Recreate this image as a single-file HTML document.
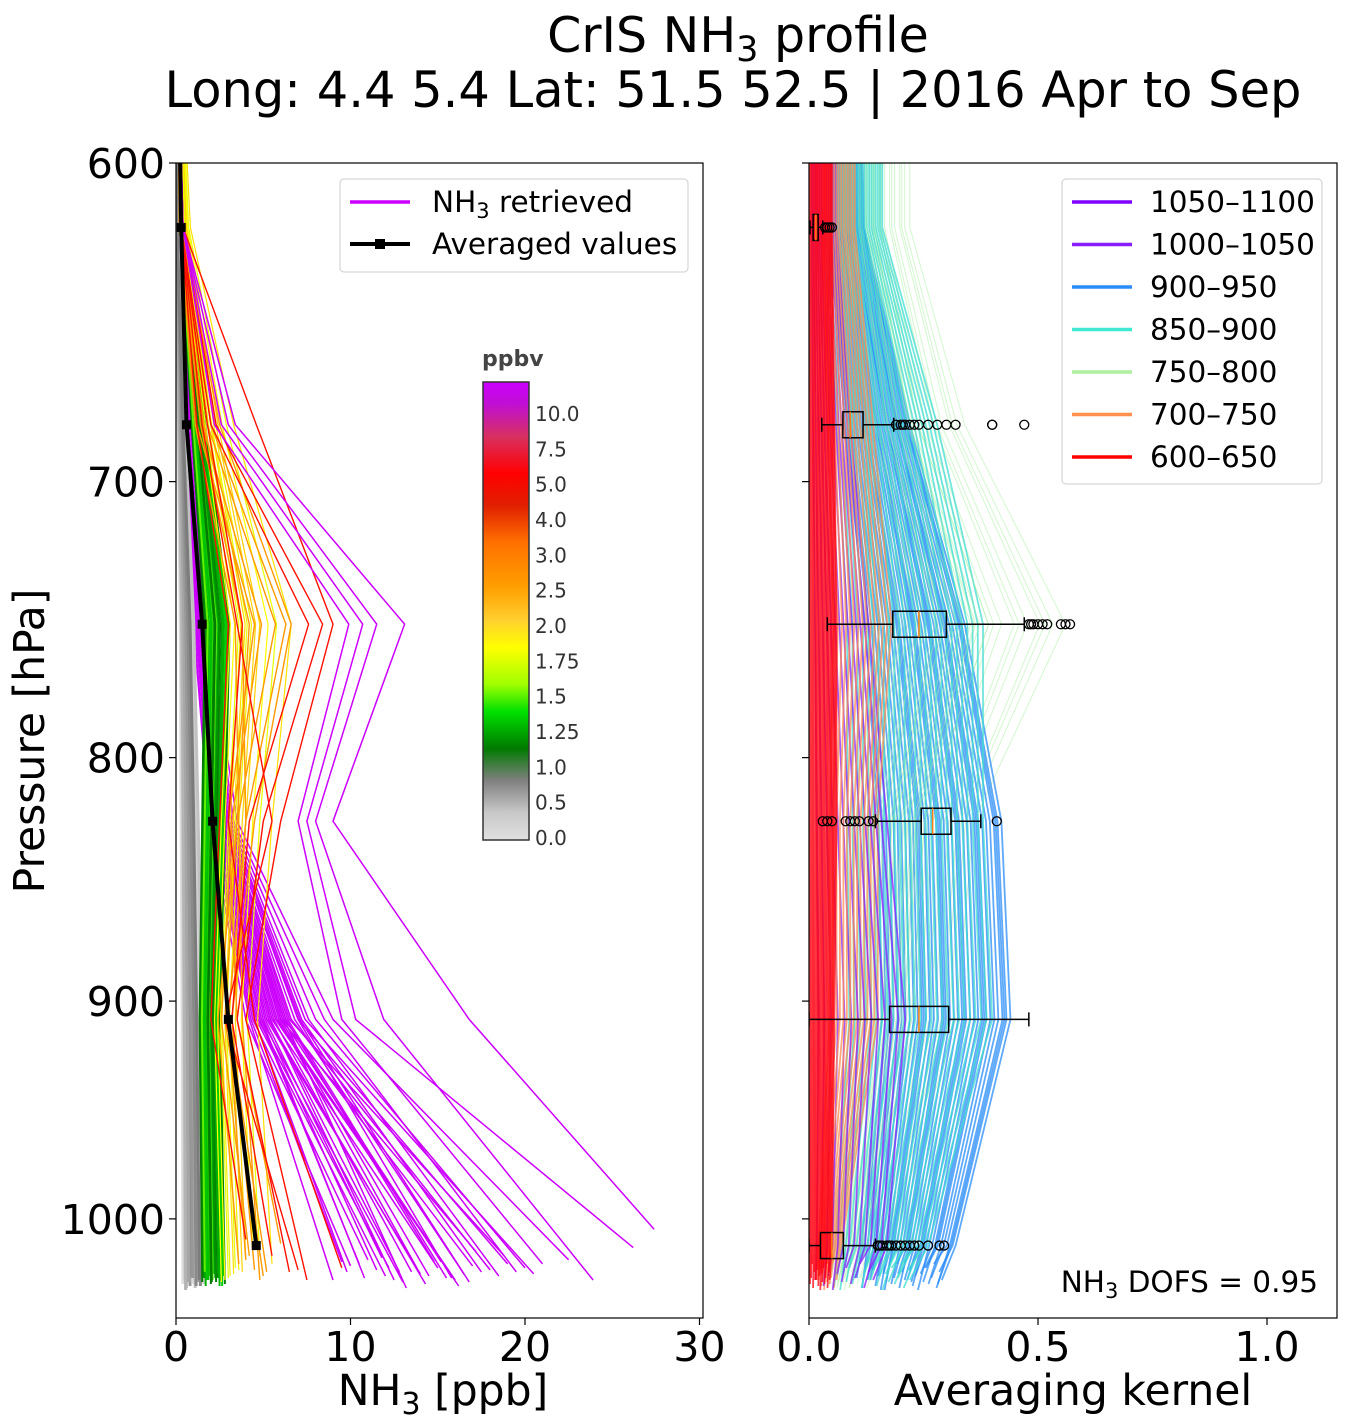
<!DOCTYPE html>
<html><head><meta charset="utf-8">
<style>
html,body{margin:0;padding:0;background:#fff;}
svg{display:block;font-family:"DejaVu Sans","Liberation Sans",sans-serif;}
</style></head>
<body>
<svg id="chart" width="1351" height="1426" viewBox="0 0 1351 1426" xmlns="http://www.w3.org/2000/svg">
<defs>
<clipPath id="clipL"><rect x="176" y="163" width="527" height="1155"/></clipPath>
<clipPath id="clipR"><rect x="809" y="163" width="528" height="1155"/></clipPath>
<linearGradient id="cbar" x1="0" y1="0" x2="0" y2="1">
<stop offset="0" stop-color="#cc00ff"/><stop offset="0.05" stop-color="#c010d0"/>
<stop offset="0.12" stop-color="#d83060"/><stop offset="0.2" stop-color="#ff0000"/>
<stop offset="0.27" stop-color="#e02000"/><stop offset="0.35" stop-color="#ff7000"/>
<stop offset="0.45" stop-color="#ffa000"/><stop offset="0.52" stop-color="#ffd030"/>
<stop offset="0.58" stop-color="#ffff00"/><stop offset="0.66" stop-color="#a0ff00"/>
<stop offset="0.72" stop-color="#00e000"/><stop offset="0.8" stop-color="#007a00"/>
<stop offset="0.87" stop-color="#808080"/><stop offset="0.94" stop-color="#c8c8c8"/>
<stop offset="1" stop-color="#e0e0e0"/>
</linearGradient>
</defs>
<text x="738" y="52" text-anchor="middle" font-size="49">CrIS NH<tspan font-size="35" dy="9">3</tspan><tspan dy="-9"> profile</tspan></text>
<text x="733" y="107" text-anchor="middle" font-size="49.5">Long: 4.4 5.4 Lat: 51.5 52.5 | 2016 Apr to Sep</text>
<g id="left-lines" clip-path="url(#clipL)"></g>
<g id="right-lines" clip-path="url(#clipR)"></g>
<g id="axes"></g>
</svg>
<script>
// ---- Data: pressure levels ----
const levelsP = [550, 619, 681, 750, 825, 908];
const avgP = [619, 681, 750, 825, 908, 1013];
const avgV = [0.3, 0.6, 1.5, 2.1, 3.0, 4.6];
const grayVs = [0.4,0.5,0.6,0.65,0.7,0.8,0.85,0.9,1.0,1.05,1.1,1.2,1.25,1.3,1.4,1.45,1.5,1.6,1.7,0.55,0.75,0.95,1.15,1.35];
const grayPs = [1032,1030,1034,1028,1031,1033,1029,1027,1032,1030,1034,1026,1031,1029,1033,1028,1030,1032,1027,1035,1031,1029,1033,1030];
const grayShape = [0.02,0.05,0.3,0.6,0.75,0.88];
const greenVs = [1.5,1.6,1.7,1.8,1.9,2.0,2.1,2.2,2.3,2.4,2.5,2.6,2.7,2.8,1.65,1.85,2.05,2.25,2.45,2.65];
const greenPs = [1031,1029,1033,1030,1028,1032,1030,1027,1031,1029,1033,1030,1028,1032,1026,1030,1031,1029,1027,1033];
const greenShape = [0.02,0.15,0.6,1.1,1.0,0.9];
const yellowVs = [2.6,3.0,3.3,3.6,4.0,4.4,4.8,5.5,3.1,3.8,2.8,3.4];
const yellowPs = [1031,1029,1027,1025,1020,1015,1018,1022,1028,1026,1030,1024];
const yellowShape = [0.02,0.15,0.6,1.2,1.0,0.85];
const orangeProfiles = [[0.3,2.5,6.6,4.5,3.2,4.5,1025],[0.3,2.0,6.3,4.0,3.0,4.0,1020],[0.2,1.8,5.7,3.5,2.8,5.0,1028],[0.2,1.5,4.9,3.2,2.6,4.2,1018],[0.2,1.2,4.5,3.0,3.5,6.0,1012],[0.2,1.6,4.2,3.5,2.4,3.6,1022],[0.2,1.4,3.8,4.0,3.0,5.2,1026],[0.2,1.1,3.4,3.6,3.8,4.8,1030]];
const redProfiles = [[0.4,4.6,9.0,6.0,4.0,7.5,1030],[0.4,2.3,8.4,5.0,3.5,6.5,1026],[0.3,2.0,7.6,4.2,3.2,5.5,1018],[0.3,1.5,3.5,5.5,2.8,7.0,1025],[0.3,1.2,3.0,2.5,2.0,4.0,1010],[0.3,1.8,3.8,3.0,4.5,9.5,1024]];
const magentaOutliers = [[0.4,3.4,13.1,9.0,16.8,27.4,1005],[0.4,3.0,11.5,8.0,11.9,23.9,1030],[0.4,2.6,10.7,7.5,10.3,26.2,1014],[0.4,2.2,9.9,7.0,9.5,21.0,1022]];
const magentaProfiles = [
[0.2,0.8,1.8,3.5,9.0,22.5,1020],[0.2,0.8,1.8,3.3,8.5,19.5,1026],[0.2,0.7,1.7,3.2,8.0,20.0,1024],[0.2,0.7,1.7,3.1,7.6,18.5,1028],
[0.2,0.7,1.6,3.0,7.2,17.5,1026],[0.2,0.7,1.6,2.9,7.0,19.0,1022],[0.2,0.6,1.5,2.8,6.8,16.5,1027],[0.2,0.6,1.5,2.8,6.6,18.0,1025],
[0.2,0.6,1.5,2.7,6.4,15.5,1029],[0.2,0.6,1.4,2.6,6.2,17.0,1023],[0.2,0.6,1.4,2.6,6.0,14.5,1028],[0.2,0.5,1.4,2.5,5.8,16.0,1030],
[0.2,0.5,1.3,2.5,5.6,13.5,1026],[0.2,0.5,1.3,2.4,5.5,15.0,1024],[0.2,0.5,1.3,2.4,5.4,12.5,1030],[0.2,0.5,1.2,2.3,5.2,14.0,1027],
[0.2,0.5,1.2,2.3,5.0,11.5,1025],[0.2,0.5,1.2,2.2,4.9,13.0,1031],[0.2,0.4,1.1,2.2,4.8,10.5,1022],[0.2,0.4,1.1,2.1,4.6,12.0,1028],
[0.2,0.4,1.1,2.1,4.5,9.8,1026],[0.2,0.4,1.0,2.0,4.4,11.0,1020],[0.2,0.4,1.0,2.0,4.2,9.0,1030],[0.2,0.4,1.0,1.9,4.0,10.0,1023],
[0.2,0.6,1.5,2.8,6.5,18.8,1018],[0.2,0.6,1.4,2.7,6.0,17.2,1016],[0.2,0.7,1.6,2.9,7.0,15.8,1029],[0.2,0.6,1.5,2.7,6.3,14.8,1021],
[0.2,0.6,1.4,2.6,5.9,13.8,1024],[0.2,0.5,1.3,2.5,5.4,12.8,1026],[0.2,0.5,1.2,2.4,5.1,11.8,1019],[0.2,0.4,1.1,2.2,4.9,10.8,1029],
[0.2,0.7,1.7,3.0,7.4,20.5,1027],[0.2,0.7,1.6,2.9,7.1,16.8,1031],[0.2,0.6,1.4,2.7,6.1,15.2,1021],[0.2,0.4,1.1,2.1,4.7,12.2,1024],
[0.2,0.4,1.0,2.0,4.3,9.5,1021],[0.2,0.5,1.2,2.3,5.3,14.3,1032],[0.2,0.5,1.3,2.5,5.7,16.2,1033],[0.2,0.6,1.4,2.6,6.2,13.2,1034]];
const akLevels = [500, 619, 681, 750, 825, 908, 1013];
const akShapes = {
  lightgreen:[0.22,0.22,0.34,0.56,0.36,0.32,0.18,0.14],
  blue:[0.1,0.12,0.22,0.34,0.42,0.44,0.32,0.29],
  cyan:[0.16,0.16,0.28,0.38,0.38,0.4,0.26,0.22],
  orange:[0.1,0.1,0.14,0.18,0.15,0.15,0.07,0.06],
  purple:[0.06,0.06,0.09,0.13,0.17,0.21,0.17,0.14],
  red:[0.05,0.05,0.055,0.06,0.06,0.055,0.05,0.045]
};
const akScales = {
  lightgreen:[1.0,0.95,0.9,0.85,0.8,0.75,0.7,0.65,0.6,0.55,0.5,0.45,0.4,0.92,0.82,0.72,0.62,0.52],
  blue:[1.0,0.98,0.96,0.94,0.92,0.9,0.88,0.86,0.84,0.82,0.8,0.78,0.76,0.74,0.72,0.7,0.68,0.66,0.64,0.62,0.6,0.58,0.56,0.54,0.52,0.5,0.48,0.46,0.44,0.42,0.4,0.38,0.36,0.97,0.87,0.77,0.67,0.57],
  cyan:[1.0,0.97,0.94,0.91,0.88,0.85,0.82,0.79,0.76,0.73,0.7,0.67,0.64,0.61,0.58,0.55,0.52,0.49,0.46,0.43,0.4,0.37,0.34,0.31,0.28,0.25,0.22],
  orange:[1.0,0.95,0.9,0.85,0.8,0.75,0.7,0.65,0.6,0.55,0.5,0.45,0.4,0.35,0.3],
  purple:[1.0,0.93,0.86,0.79,0.72,0.65,0.58,0.51,0.44,0.37,0.3,0.23,0.16,0.1],
  red:[1.0,0.95,0.9,0.85,0.8,0.75,0.7,0.65,0.6,0.55,0.5,0.45,0.4,0.35,0.3,0.25,0.2,0.15,0.1,0.05]
};
const akSurfP = [1030,1026,1034,1022,1029,1032,1024,1031,1027,1035,1028,1033,1025,1030];
const boxLevels = [619, 681, 750, 825, 908, 1013];
const boxStats = [[0.002,0.009,0.015,0.02,0.03],[0.028,0.074,0.09,0.118,0.185],[0.04,0.183,0.24,0.30,0.47],[0.145,0.245,0.27,0.31,0.375],[0.0,0.176,0.24,0.305,0.48],[0.0,0.025,0.05,0.075,0.145]];
const boxOutliers = [[0.035,0.04,0.045,0.05],[0.19,0.2,0.205,0.21,0.22,0.23,0.24,0.26,0.28,0.3,0.32,0.4,0.4,0.47],[0.48,0.485,0.49,0.5,0.51,0.52,0.55,0.56,0.57],[0.03,0.04,0.05,0.08,0.09,0.1,0.11,0.13,0.14,0.41],[],[0.15,0.155,0.16,0.17,0.175,0.18,0.19,0.2,0.21,0.22,0.23,0.24,0.26,0.285,0.295]];
const leftXTicks = [0,10,20,30];
const rightXTicks = [0.0,0.5,1.0];
const yTicks = [600,700,800,900,1000];
const cbarLabels = ["10.0","7.5","5.0","4.0","3.0","2.5","2.0","1.75","1.5","1.25","1.0","0.5","0.0"];
const akClasses = ["1050\u20131100","1000\u20131050","900\u2013950","850\u2013900","750\u2013800","700\u2013750","600\u2013650"];

const NS="http://www.w3.org/2000/svg";
const yS = p => 163 + 2067*Math.log(p/600);
const xL = v => 176 + v*17.45;
const xR = v => 809 + v*458;
function mk(tag, attrs, parent){const e=document.createElementNS(NS,tag);for(const k in attrs)e.setAttribute(k,attrs[k]);parent.appendChild(e);return e;}
const gL=document.getElementById('left-lines'), gR=document.getElementById('right-lines'), gA=document.getElementById('axes');

function profLine(vals, pres, color, w, name){
  const pts = vals.map((v,i)=>xL(v).toFixed(1)+','+yS(pres[i]).toFixed(1)).join(' ');
  const e=mk('polyline',{points:pts,fill:'none',stroke:color,'stroke-width':w},gL);
  
  
}
magentaProfiles.forEach(p=>{profLine([0.05,...p.slice(0,6)],[...levelsP,p[6]],'#cc00ff',1.5,'magenta-profile');});
const grayCols=['#dcdcdc','#cfcfcf','#c2c2c2','#b4b4b4','#a6a6a6','#989898','#8a8a8a','#7c7c7c'];
grayVs.forEach((vs,i)=>{profLine([...grayShape.map(s=>s*vs),vs],[...levelsP,grayPs[i]],grayCols[i%8],3,'gray-profile');});
const greenCols=['#007a00','#009000','#00b000','#00d000','#30e000','#008400','#60f000','#00c000'];
greenVs.forEach((vs,i)=>{profLine([...greenShape.map(s=>s*vs),vs],[...levelsP,greenPs[i]],greenCols[i%8],2,'green-profile');});
const yelCols=['#ffff00','#e8ff00','#ffe000','#f0f000','#ffd000'];
yellowVs.forEach((vs,i)=>{profLine([...yellowShape.map(s=>s*vs),vs],[...levelsP,yellowPs[i]],yelCols[i%5],1.2,'yellow-profile');});
orangeProfiles.forEach(p=>{profLine([0.05,...p.slice(0,6)],[...levelsP,p[6]],'#ff9a00',1.4,'orange-profile');});
redProfiles.forEach(p=>{profLine([0.05,...p.slice(0,6)],[...levelsP,p[6]],'#ff1000',1.4,'red-profile');});
magentaOutliers.forEach(p=>{profLine([0.05,...p.slice(0,6)],[...levelsP,p[6]],'#cc00ff',1.5,'magenta-outlier-profile');});
const avPts = avgV.map((v,i)=>xL(v).toFixed(1)+','+yS(avgP[i]).toFixed(1));
const avLine=mk('polyline',{points:[xL(0.1)+','+yS(560),...avPts].join(' '),fill:'none',stroke:'#000','stroke-width':4},gL);


avgV.forEach((v,i)=>{const m=mk('rect',{x:xL(v)-4.5,y:yS(avgP[i])-4.5,width:9,height:9,fill:'#000'},gL);
  
  });

// right panel
const akCol={lightgreen:'#a8f0a0',blue:'#2a8cf8',cyan:'#40dcd0',orange:'#ff8c50',purple:'#8a20ff',red:'#ff0010'};
function akLine(cls,s,i){
  const sh=akShapes[cls];
  const pres=[...akLevels, akSurfP[i%akSurfP.length]];
  const pts=sh.map((v,j)=>xR(v*s).toFixed(1)+','+yS(pres[j]).toFixed(1)).join(' ');
  const e=mk('polyline',{points:pts,fill:'none',stroke:akCol[cls],'stroke-width':cls==='lightgreen'?1:1.8,'stroke-opacity':cls==='lightgreen'?0.5:0.75},gR);
  
  
}
akScales.lightgreen.forEach((s,i)=>akLine('lightgreen',s,i));
akScales.blue.forEach((s,i)=>akLine('blue',s,i));
for(let i=0;i<40;i++){['cyan','lightgreen'].forEach(c=>{if(i<akScales[c].length)akLine(c,akScales[c][i]*(c==='lightgreen'?0.7:1),i);});}
for(let i=0;i<40;i++){['purple','orange'].forEach(c=>{if(i<akScales[c].length)akLine(c,akScales[c][i],i);});}
akScales.red.forEach((s,i)=>akLine('red',s,i));
boxLevels.forEach((p,i)=>{
  const y=yS(p), s=boxStats[i], g=mk('g',{},gR);
  
  
  mk('line',{x1:xR(s[0]),x2:xR(s[1]),y1:y,y2:y,stroke:'#000','stroke-width':1.5},g);
  mk('line',{x1:xR(s[3]),x2:xR(s[4]),y1:y,y2:y,stroke:'#000','stroke-width':1.5},g);
  mk('line',{x1:xR(s[0]),x2:xR(s[0]),y1:y-7,y2:y+7,stroke:'#000','stroke-width':1.5},g);
  mk('line',{x1:xR(s[4]),x2:xR(s[4]),y1:y-7,y2:y+7,stroke:'#000','stroke-width':1.5},g);
  mk('rect',{x:xR(s[1]),y:y-13,width:xR(s[3])-xR(s[1]),height:26,fill:'none',stroke:'#000','stroke-width':1.5},g);
  mk('line',{x1:xR(s[2]),x2:xR(s[2]),y1:y-13,y2:y+13,stroke:'#ff7f0e','stroke-width':1.5},g);
  boxOutliers[i].forEach(o=>mk('circle',{cx:xR(o),cy:y,r:4.5,fill:'none',stroke:'#000','stroke-width':1.3},g));
});

mk('rect',{x:176,y:163,width:527,height:1155,fill:'none',stroke:'#000','stroke-width':1.2},gA);
mk('rect',{x:809,y:163,width:528,height:1155,fill:'none',stroke:'#000','stroke-width':1.2},gA);
yTicks.forEach(t=>{
  const y=yS(t);
  mk('line',{x1:169,x2:176,y1:y,y2:y,stroke:'#000','stroke-width':1.2},gA);
  mk('line',{x1:802,x2:809,y1:y,y2:y,stroke:'#000','stroke-width':1.2},gA);
  const tx=mk('text',{x:165,y:y+15,'text-anchor':'end','font-size':41},gA);tx.textContent=t;
  
  
});
leftXTicks.forEach(t=>{
  const x=xL(t);
  mk('line',{x1:x,x2:x,y1:1318,y2:1325,stroke:'#000','stroke-width':1.2},gA);
  const tx=mk('text',{x:x,y:1361,'text-anchor':'middle','font-size':41},gA);tx.textContent=t;
  
  
});
rightXTicks.forEach(t=>{
  const x=xR(t);
  mk('line',{x1:x,x2:x,y1:1318,y2:1325,stroke:'#000','stroke-width':1.2},gA);
  const tx=mk('text',{x:x,y:1361,'text-anchor':'middle','font-size':41},gA);tx.textContent=t.toFixed(1);
  
  
});
cbarLabels.forEach((l,i)=>{
  const y=414+i*(838-414)/12;
  mk('line',{x1:524,x2:529,y1:y,y2:y,stroke:'#444','stroke-width':1},gA);
  const tx=mk('text',{x:535,y:y+7,'font-size':20,fill:'#333'},gA);tx.textContent=l;
  
  
});
const legCols=['#8000ff','#8a1cff','#2a8cf8','#40e8d0','#aef0a0','#ff9050','#ff0000'];
akClasses.forEach((c,i)=>{
  const y=202+i*42.5;
  const l=mk('line',{x1:1072,x2:1132,y1:y,y2:y,stroke:legCols[i],'stroke-width':3.5},gA);
  
  
  const tx=mk('text',{x:1150,y:y+10,'font-size':29.5},gA);tx.textContent=c;
  
  
});
</script>
<script>
const s2=document.getElementById('chart');
s2.insertAdjacentHTML('beforeend',`
<g>
<text x="482" y="366" font-size="22" font-weight="bold" fill="#444">ppbv</text>
<rect x="483" y="382" width="46" height="458" fill="url(#cbar)" stroke="#333" stroke-width="1.5"/>
</g>
<g>
<rect x="340" y="179" width="348" height="93" rx="4" fill="#fff" fill-opacity="0.85" stroke="#ccc" stroke-width="1"/>
<line x1="350" x2="410" y1="202" y2="202" stroke="#cc00ff" stroke-width="3.5"/>
<text x="432" y="212" font-size="29.5">NH<tspan font-size="21" dy="6">3</tspan><tspan dy="-6"> retrieved</tspan></text>
<line x1="350" x2="410" y1="244" y2="244" stroke="#000" stroke-width="4"/>
<rect x="375" y="239" width="10" height="10" fill="#000"/>
<text x="432" y="254" font-size="29.5">Averaged values</text>
</g>
<rect x="1062" y="179" width="260" height="305" rx="4" fill="none" stroke="#ccc" stroke-width="1"/>
<text x="1318" y="1292" text-anchor="end" font-size="29.5">NH<tspan font-size="21" dy="6">3</tspan><tspan dy="-6"> DOFS = 0.95</tspan></text>
<text x="443" y="1405" text-anchor="middle" font-size="42.5">NH<tspan font-size="30" dy="9">3</tspan><tspan dy="-9"> [ppb]</tspan></text>
<text x="1073" y="1405" text-anchor="middle" font-size="42.5">Averaging kernel</text>
<text transform="translate(44,741) rotate(-90)" text-anchor="middle" font-size="42.5">Pressure [hPa]</text>
`);
</script>
</body></html>
